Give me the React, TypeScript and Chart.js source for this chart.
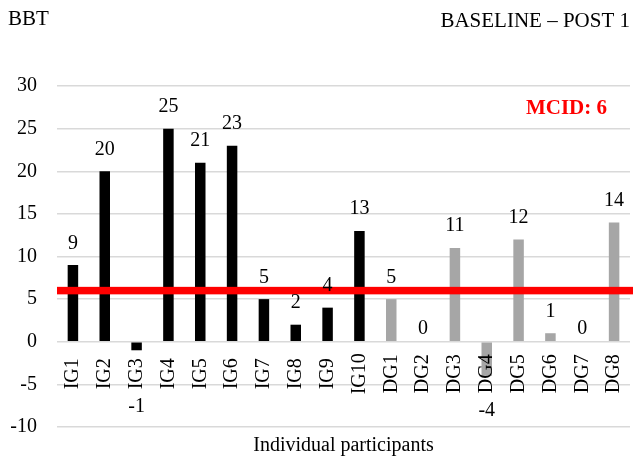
import { useEffect, useRef } from "react";
import { Chart, registerables } from "chart.js";

Chart.register(...registerables);

const igLabels = ["IG1", "IG2", "IG3", "IG4", "IG5", "IG6", "IG7", "IG8", "IG9", "IG10"];
const dgLabels = ["DG1", "DG2", "DG3", "DG4", "DG5", "DG6", "DG7", "DG8"];
const igValues = [9, 20, -1, 25, 21, 23, 5, 2, 4, 13];
const dgValues = [5, 0, 11, -4, 12, 1, 0, 14];
const yMin = -10;
const yMax = 30;
const yStep = 5;
const mcid = 6;
const mcidLabel = "MCID: 6";
const yTitle = "BBT";
const chartTitle = "BASELINE – POST 1";
const xTitle = "Individual participants";

const FAMILY = "'Liberation Serif', 'Times New Roman', serif";
const FONT = `20px ${FAMILY}`;
const TITLE_FONT = `21px ${FAMILY}`;

const annotPlugin = {
  id: "annot",
  afterDatasetsDraw(chart: any) {
    const { ctx, chartArea, scales } = chart;
    const y = scales.y;
    const x = scales.x;
    ctx.save();
    const zero = y.getPixelForValue(0);
    const labelCenter = zero + 32;

    // category labels, rotated and centred in the label band (drawn over bars)
    ctx.font = FONT;
    ctx.fillStyle = "#000";
    ctx.textAlign = "center";
    ctx.textBaseline = "middle";
    chart.data.labels.forEach((lab: string, i: number) => {
      const px = x.getPixelForTick(i);
      ctx.save();
      ctx.translate(px, labelCenter);
      ctx.rotate(-Math.PI / 2);
      ctx.fillText(String(lab), 0, 0);
      ctx.restore();
    });

    // MCID reference line
    const yp = y.getPixelForValue(mcid);
    ctx.fillStyle = "#ff0000";
    ctx.fillRect(chartArea.left, yp - 3.75, chartArea.right + 3 - chartArea.left, 7.5);

    // value labels
    ctx.fillStyle = "#000";
    ctx.textAlign = "center";
    ctx.textBaseline = "alphabetic";
    chart.data.datasets.forEach((ds: any, di: number) => {
      const meta = chart.getDatasetMeta(di);
      meta.data.forEach((el: any, i: number) => {
        const v = ds.data[i];
        if (v == null) return;
        let ty: number;
        if (v > 0) ty = el.y - 16.5;
        else if (v === 0) ty = zero - 8;
        else {
          const lw = ctx.measureText(String(chart.data.labels[i])).width;
          const c = Math.max(el.y + 23, labelCenter + lw / 2 + 16);
          ty = c + 6.5;
        }
        ctx.fillText(String(v), el.x, ty);
      });
    });

    ctx.font = `bold 21px ${FAMILY}`;
    ctx.fillStyle = "#ff0000";
    ctx.textAlign = "right";
    ctx.fillText(mcidLabel, chartArea.right - 23, chartArea.top + 28);

    ctx.font = TITLE_FONT;
    ctx.fillStyle = "#000";
    ctx.textAlign = "left";
    ctx.fillText(yTitle, 8, 25);
    ctx.textAlign = "right";
    ctx.fillText(chartTitle, chartArea.right, 27);
    ctx.font = FONT;
    ctx.textAlign = "center";
    ctx.fillText(xTitle, (chartArea.left + chartArea.right) / 2, 451);
    ctx.restore();
  },
};

export default function App() {
  const ref = useRef<HTMLCanvasElement>(null);
  useEffect(() => {
    if (!ref.current) return;
    const categories = [...igLabels, ...dgLabels];
    const chart = new Chart(ref.current, {
      type: "bar",
      data: {
        labels: categories,
        datasets: [
          {
            label: "IG",
            data: [...igValues, ...dgLabels.map(() => null)],
            backgroundColor: "#000000",
            grouped: false,
            barPercentage: 0.33,
            categoryPercentage: 1,
          },
          {
            label: "DG",
            data: [...igLabels.map(() => null), ...dgValues],
            backgroundColor: "#a6a6a6",
            grouped: false,
            barPercentage: 0.33,
            categoryPercentage: 1,
          },
        ],
      },
      options: {
        responsive: false,
        animation: false,
        layout: { padding: { left: 0, top: 86, right: 5, bottom: 29 } },
        plugins: {
          legend: { display: false },
          tooltip: { enabled: false },
          title: { display: false },
        },
        scales: {
          x: {
            grid: { display: false, drawTicks: false },
            border: { display: false },
            ticks: { display: false },
            afterFit: (s: any) => {
              s.paddingLeft = 0;
              s.paddingRight = 0;
              s.paddingTop = 0;
              s.paddingBottom = 0;
              s.height = 0;
            },
          },
          y: {
            min: yMin,
            max: yMax,
            ticks: {
              stepSize: yStep,
              padding: 20,
              color: "#000",
              font: { family: FAMILY, size: 20 },
            },
            grid: { color: "#d9d9d9", lineWidth: 1.5, drawTicks: false },
            border: { display: false },
            afterFit: (s: any) => {
              s.width = 57;
              s.paddingTop = 0;
              s.paddingBottom = 0;
            },
          },
        },
      },
      plugins: [annotPlugin],
    });
    return () => chart.destroy();
  }, []);
  return (
    <div style={{ position: "absolute", left: 0, top: 0, width: 635, height: 456 }}>
      <canvas ref={ref} width={635} height={456} />
    </div>
  );
}
